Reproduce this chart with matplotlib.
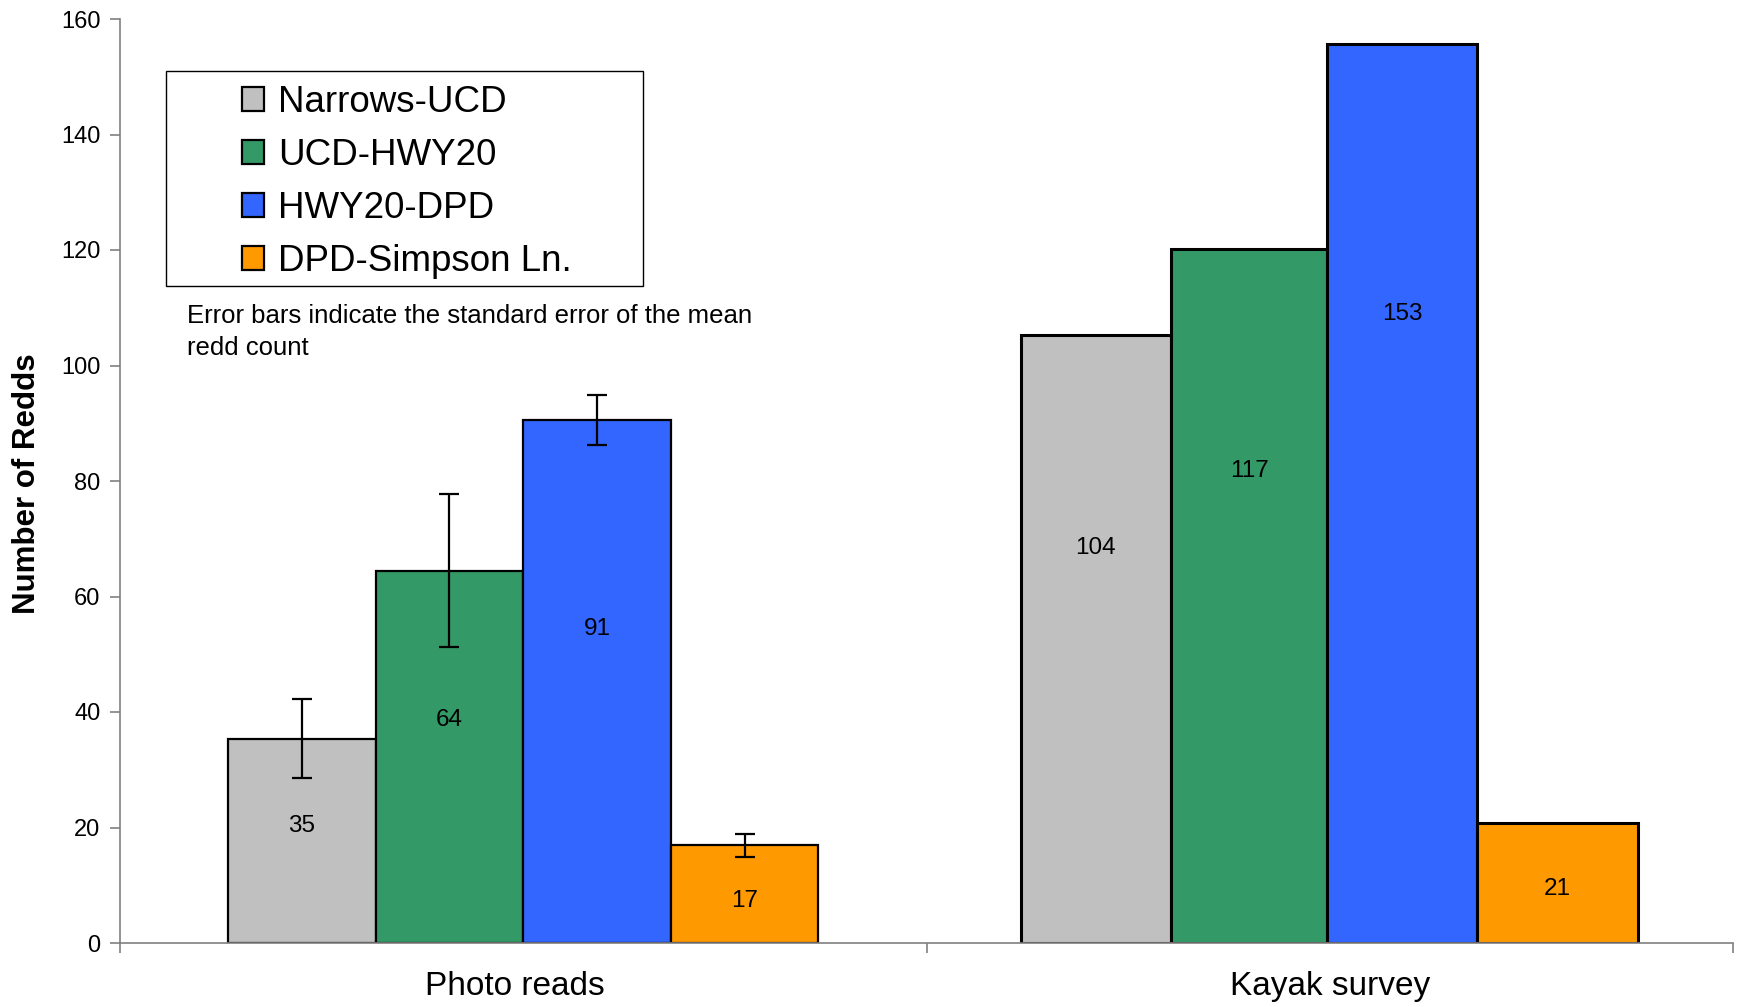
import matplotlib
matplotlib.use("Agg")
import matplotlib.pyplot as plt
from matplotlib.patches import Rectangle
import numpy as np

plt.rcParams['font.family'] = ['Liberation Sans', 'DejaVu Sans']

categories = ["Photo reads", "Kayak survey"]
series = ["Narrows-UCD", "UCD-HWY20", "HWY20-DPD", "DPD-Simpson Ln."]
colors = ["#C0C0C0", "#339966", "#3366FF", "#FF9900"]

photo_values = [35.4, 64.5, 90.6, 16.9]
photo_errors = [6.9, 13.2, 4.3, 2.0]
photo_labels = ["35", "64", "91", "17"]

kayak_values = [105.2, 120.2, 155.6, 20.8]
kayak_labels = ["104", "117", "153", "21"]

yticks = [0, 20, 40, 60, 80, 100, 120, 140, 160]

# layout: bar edges (offset from category centre) and label height fraction
photo_edges = [-0.366, -0.183, 0.0, 0.183, 0.366]
kayak_edges = [-0.383, -0.197, -0.003, 0.182, 0.382]
photo_label_frac = [0.57, 0.60, 0.60, 0.43]
kayak_label_frac = [0.65, 0.68, 0.70, 0.45]

W, H = 1742, 1007
fig = plt.figure(figsize=(W / 100, H / 100), dpi=100)
ax = fig.add_axes([120 / W, 1 - 943 / H, (1733 - 120) / W, (943 - 19) / H])

axis_col = "#808080"

def draw_group(xc, values, errors, labels, fracs, edges, lw):
    for i in range(4):
        left = xc + edges[i]
        width = edges[i + 1] - edges[i]
        mid = left + width / 2
        ax.bar(left, values[i], width=width, align="edge", color=colors[i],
               edgecolor="black", linewidth=lw, zorder=2,
               label=series[i] if xc == 0 else None)
        if errors is not None:
            ax.errorbar(mid, values[i], yerr=errors[i], fmt="none",
                        ecolor="black", elinewidth=1.6, capsize=7, capthick=1.6,
                        zorder=3)
        ax.text(mid, values[i] * fracs[i], labels[i], ha="center",
                va="center", fontsize=17.5, zorder=4)

draw_group(0, photo_values, photo_errors, photo_labels, photo_label_frac, photo_edges, 1.6)
draw_group(1, kayak_values, None, kayak_labels, kayak_label_frac, kayak_edges, 2.2)

ax.set_xlim(-0.5, 1.5)
ax.set_ylim(0, 160)
ax.set_yticks(yticks)
ax.set_yticklabels([str(v) for v in yticks], fontsize=17)
ax.set_xticks([-0.01, 1])
ax.set_xticklabels(categories, fontsize=24)
ax.set_xticks([-0.5, 0.5, 1.5], minor=True)
ax.tick_params(axis="x", which="major", length=0, pad=20)
ax.tick_params(axis="x", which="minor", length=7, color=axis_col, width=1.2)
ax.tick_params(axis="y", length=7, color=axis_col, width=1.2, pad=7)

for s in ["top", "right"]:
    ax.spines[s].set_visible(False)
for s in ["left", "bottom"]:
    ax.spines[s].set_color(axis_col)
    ax.spines[s].set_linewidth(1.2)

ax.set_ylabel("Number of Redds", fontsize=22.5, fontweight="bold")
ax.yaxis.set_label_coords(42 / W, 1 - 484 / H, transform=fig.transFigure)

# legend box
fig.patches.append(Rectangle((166 / W, 1 - 286 / H), (643 - 166) / W, (286 - 71) / H,
                             transform=fig.transFigure, fill=False,
                             edgecolor="black", linewidth=1.0))
leg = ax.legend(loc="upper left", bbox_to_anchor=(242 / W, 1 - 85 / H),
                bbox_transform=fig.transFigure, frameon=False, fontsize=26.5,
                handlelength=0.6, handleheight=0.6, handletextpad=0.38,
                labelspacing=0.49, borderaxespad=0, borderpad=0)

fig.text(187 / W, 1 - 332 / H, "Error bars indicate the standard error of the mean\nredd count",
         fontsize=18.5, ha="left", va="center", linespacing=1.45)

fig.savefig("out.png", dpi=100, facecolor="white")
